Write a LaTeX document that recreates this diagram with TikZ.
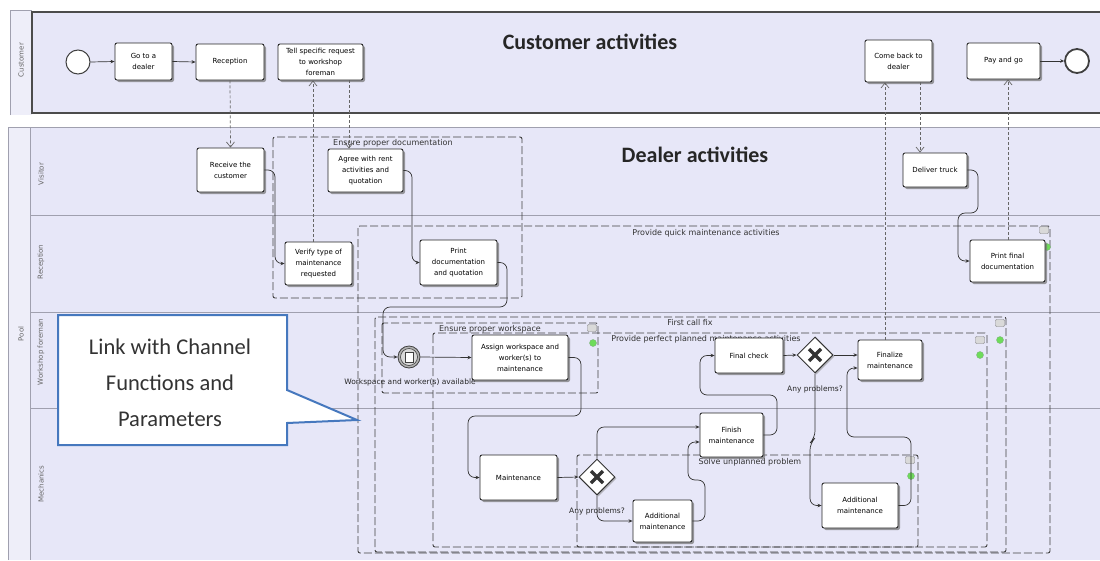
\documentclass[tikz,border=0pt]{standalone}
\usepackage{fontspec}
\setmainfont{DejaVu Sans}
\newfontfamily\calfont{Carlito}
\usetikzlibrary{arrows.meta,shapes.geometric,shadows}
\definecolor{lanebg}{RGB}{231,231,248}
\definecolor{stripbg}{RGB}{238,238,249}
\definecolor{lineg}{RGB}{160,160,175}
\definecolor{callblue}{RGB}{70,120,190}
\definecolor{dotgreen}{RGB}{110,220,90}
\tikzset{
  task/.style={draw=black!85, fill=white, rounded corners=2pt, line width=0.9pt, align=center,
    font=\fontsize{7}{11}\selectfont, text=black, inner sep=1pt,
    drop shadow={shadow xshift=2pt, shadow yshift=-2pt, fill=black!55, opacity=0.7}},
  seq/.style={draw=black!80, line width=0.7pt, rounded corners=7pt, -{Stealth[length=4pt,width=3.5pt]}},
  msg/.style={draw=black!60, line width=0.7pt, dash pattern=on 3pt off 2pt, -{Straight Barb[length=5pt,width=8pt]}},
  grp/.style={draw=black!75, line width=0.9pt, dash pattern=on 8pt off 3pt, rounded corners=2pt},
  glabel/.style={font=\fontsize{8}{9}\selectfont, text=black!80, inner sep=0pt},
  slabel/.style={font=\fontsize{7.5}{9}\selectfont, text=black!85, inner sep=0pt},
  lanelab/.style={rotate=90, font=\fontsize{7}{8}\selectfont, text=black!60},
  gicon/.style={draw=black!50, fill=black!15, minimum width=9pt, minimum height=7pt, inner sep=0pt, rounded corners=1pt},
  gdot/.style={circle, fill=dotgreen, draw=green!40!black!50, minimum size=7pt, inner sep=0pt},
  gateway/.style={diamond, draw=black!80, fill=white, line width=1pt, minimum size=36pt, inner sep=0pt,
    drop shadow={shadow xshift=1.5pt, shadow yshift=-1.5pt, fill=black!50, opacity=0.5}},
  bpmnevent/.style={circle, draw=black!75, fill=white, line width=1pt, minimum size=24pt, inner sep=0pt},
  xmark/.style={line width=3.5pt, black!80}
}
\begin{document}
\begin{tikzpicture}[x=1pt,y=-1pt]
\useasboundingbox (0,0) rectangle (1100,560);
\fill[white] (0,0) rectangle (1100,560);
% customer pool
\fill[stripbg] (10,10) rectangle (32,115);
\draw[lineg] (10,115) -- (10,10) -- (32,10);
\fill[lanebg] (32,12) rectangle (1100,113);
\draw[black!70, line width=2pt] (1100,12) -- (32,12) -- (32,113) -- (1100,113);
\node[lanelab] (lcust) at (21,60) {Customer};
% dealer pool
\fill[stripbg] (8,127) rectangle (30,560);
\fill[lanebg] (30,127) rectangle (1100,560);
\draw[lineg] (8,560) -- (8,127) -- (1100,127);
\draw[lineg] (30,127) -- (30,560);
\draw[lineg] (30,215) -- (1100,215);
\draw[lineg] (30,312) -- (1100,312);
\draw[lineg] (30,408) -- (1100,408);
\node[lanelab] (lpool) at (21,334) {Pool};
\node[lanelab] (lvis) at (41,174) {Visitor};
\node[lanelab] (lrec) at (41,262) {Reception};
\node[lanelab] (lws) at (41,352) {Workshop foreman};
\node[lanelab] (lmech) at (41,484) {Mechanics};
% titles
\node[font=\calfont\bfseries\fontsize{22}{24}\selectfont, text=black!85] (ctitle) at (590,42) {Customer activities};
\node[font=\calfont\bfseries\fontsize{22}{24}\selectfont, text=black!85] (dtitle) at (695,155) {Dealer activities};
% groups
\draw[grp] (273,137) rectangle (522,298);
\node[glabel, anchor=west] (gdoc) at (333,143) {Ensure proper documentation};
\draw[grp] (358,226) rectangle (1050,553);
\node[glabel] (gquick) at (706,233) {Provide quick maintenance activities};
\node[gicon] (iq) at (1044,230) {}; \node[gdot] (dq) at (1047,247) {};
\draw[grp] (375,317) rectangle (1006,552);
\node[glabel] (gfirst) at (690,323) {First call fix};
\node[gicon] (if) at (1000,323) {}; \node[gdot] (df) at (1000,340) {};
\draw[grp] (382,323) rectangle (598,393);
\node[glabel] (gws) at (490,329) {Ensure proper workspace};
\node[gicon] (iw) at (592,328) {}; \node[gdot] (dw) at (593,343) {};
\draw[grp] (433,333) rectangle (987,547);
\node[glabel] (gplan) at (706,339) {Provide perfect planned maintenance activities};
\node[gicon] (ip) at (980,340) {}; \node[gdot] (dp) at (980,355) {};
\draw[grp] (577,455) rectangle (918,547);
\node[glabel] (gsolve) at (750,462) {Solve unplanned problem};
\node[gicon] (is) at (910,460) {}; \node[gdot] (ds) at (911,476) {};
% callout
\draw[callblue, line width=2pt, fill=white] (58,315) -- (287,315) -- (287,390) -- (357,420) -- (287,423) -- (287,445) -- (58,445) -- cycle;
\node[font=\calfont\fontsize{22.5}{36}\selectfont, align=center, text=black!80] (ctext) at (170,383) {Link with Channel\\Functions and\\Parameters};
% customer tasks
\node[bpmnevent] (start) at (78,62) {};
\node[task, minimum width=57pt, minimum height=37pt] (go) at (143.5,61.5) {Go to a\\dealer};
\node[task, minimum width=68pt, minimum height=36pt] (rec) at (230,62) {Reception};
\node[task, minimum width=85pt, minimum height=36pt] (tell) at (320.5,62) {Tell specific request\\to workshop\\foreman};
\node[task, minimum width=67pt, minimum height=42pt] (come) at (898.5,61) {Come back to\\dealer};
\node[task, minimum width=73pt, minimum height=36pt] (pay) at (1003.5,61) {Pay and go};
\node[bpmnevent, line width=1.8pt] (end) at (1077,61) {};
% dealer tasks
\node[task, minimum width=67pt, minimum height=44pt] (recv) at (230.5,170) {Receive the\\customer};
\node[task, minimum width=75pt, minimum height=43pt] (agree) at (365.5,170.5) {Agree with rent\\activities and\\quotation};
\node[task, minimum width=67pt, minimum height=43pt] (verify) at (318.5,263.5) {Verify type of\\maintenance\\requested};
\node[task, minimum width=77pt, minimum height=45pt] (printdoc) at (458.5,262.5) {Print\\documentation\\and quotation};
\node[task, minimum width=64pt, minimum height=34pt] (deliver) at (935,170) {Deliver truck};
\node[task, minimum width=75pt, minimum height=42pt] (printfinal) at (1007.5,261) {Print final\\documentation};
\node[circle, draw=black!75, fill=black!30, line width=0.8pt, minimum size=22pt, inner sep=0pt] (ev) at (409,357) {};
\draw[black!75, line width=0.6pt, fill=black!15] (ev) circle (8.5pt);
\draw[black!75, line width=0.6pt, fill=white] ([shift={(-4pt,-5pt)}]ev.center) rectangle ([shift={(4pt,5pt)}]ev.center);
\node[slabel] (evl) at (410,382) {Workspace and worker(s) available};
\node[task, minimum width=96pt, minimum height=45pt] (assign) at (520,357.5) {Assign workspace and\\worker(s) to\\maintenance};
\node[task, minimum width=77pt, minimum height=45pt] (maint) at (518.5,477.5) {Maintenance};
\node[gateway] (gw1) at (597,477) {};
\draw[xmark] ([shift={(-6pt,-6pt)}]gw1.center) -- ([shift={(6pt,6pt)}]gw1.center);
\draw[xmark] ([shift={(-6pt,6pt)}]gw1.center) -- ([shift={(6pt,-6pt)}]gw1.center);
\node[slabel] (gw1l) at (597,511) {Any problems?};
\node[task, minimum width=59pt, minimum height=42pt] (addl) at (662.5,521) {Additional\\maintenance};
\node[task, minimum width=63pt, minimum height=44pt] (finish) at (731.5,435) {Finish\\maintenance};
\node[task, minimum width=68pt, minimum height=35pt] (final) at (749,355.5) {Final check};
\node[gateway] (gw2) at (815,355) {};
\draw[xmark] ([shift={(-6pt,-6pt)}]gw2.center) -- ([shift={(6pt,6pt)}]gw2.center);
\draw[xmark] ([shift={(-6pt,6pt)}]gw2.center) -- ([shift={(6pt,-6pt)}]gw2.center);
\node[slabel] (gw2l) at (815,389) {Any problems?};
\node[task, minimum width=64pt, minimum height=40pt] (finalize) at (890,360) {Finalize\\maintenance};
\node[task, minimum width=76pt, minimum height=45pt] (addr) at (860,505.5) {Additional\\maintenance};
% message flows
\draw[msg] (rec.south) -- (recv.north);
\draw[msg] ([xshift=-5.5pt]verify.north) -- ([xshift=-7.5pt]tell.south);
\draw[msg] ([xshift=28.5pt]tell.south) -- ([xshift=-16.5pt]agree.north);
\draw[msg] ([xshift=-5pt]finalize.north) -- ([xshift=-13.5pt]come.south);
\draw[msg] ([xshift=21.5pt]come.south) -- ([xshift=-15pt]deliver.north);
\draw[msg] ([xshift=0.5pt]printfinal.north) -- ([xshift=4.5pt]pay.south);
% sequence flows
\draw[seq] (start.east) -- (go.west);
\draw[seq] (go.east) -- (rec.west);
\draw[seq] (pay.east) -- (end.west);
\draw[seq] (recv.east) -- (275,170) |- (verify.west);
\draw[seq] (agree.east) -- (412,170.5) |- (printdoc.west);
\draw[seq] (printdoc.east) -- (507,262.5) -- (507,307) -- (383,307) |- (ev.west);
\draw[seq] (ev.east) -- (assign.west);
\draw[seq] (assign.east) -- (581,357.5) -- (581,416) -- (468,416) |- (maint.west);
\draw[seq] (maint.east) -- (gw1.west);
\draw[seq] (gw1.north) |- ([yshift=8pt]finish.west);
\draw[seq] (gw1.south) |- (addl.west);
\draw[seq] (addl.east) -- (705,521) -- (705,480) -- (688,480) |- ([yshift=-7pt]finish.west);
\draw[seq] (finish.east) -- (777,435) -- (777,395) -- (700,395) |- (final.west);
\draw[seq] (final.east) -- (gw2.west);
\draw[seq] (gw2.east) -- ([yshift=5pt]finalize.west);
\draw[seq] (gw2.south) -- (815,438) -- (810,443) |- (addr.west);
\draw[seq] (addr.east) -- (911,505.5) -- (911,437) -- (847,437) |- ([yshift=-8pt]finalize.west);
\draw[seq] (deliver.east) -- (978,170) -- (978,213) -- (958,213) |- (printfinal.west);
\end{tikzpicture}
\end{document}
